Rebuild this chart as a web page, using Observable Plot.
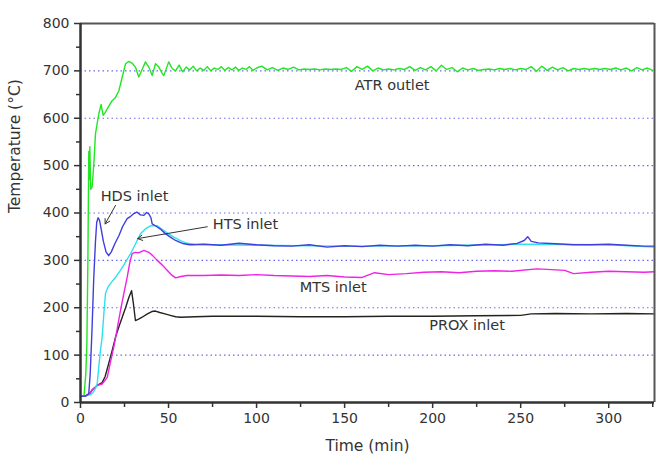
<!DOCTYPE html>
<html><head><meta charset="utf-8">
<script src="https://cdn.jsdelivr.net/npm/d3@7"></script>
<script src="https://cdn.jsdelivr.net/npm/@observablehq/plot@0.6"></script>
<style>body{margin:0;background:#fff} svg{display:block}</style>
</head><body><div id="chart"></div>
<script>
// [time (min), temperature (°C)]
const atrOutlet = [[0,13],[2,14],[3,60],[3.6,120],[4.2,300],[4.7,530],[5.0,470],[5.3,540],[5.8,450],[6.6,455],[7.6,505],[8.5,567],[9.5,590],[10.4,609],[11.7,629],[12.9,606],[14,612],[15.2,620],[16.5,628],[18,637],[19.9,644],[21.8,658],[23.7,687],[25.6,715],[27.5,720],[29.4,716],[31.2,708],[33.1,687],[35,703],[36.9,719],[38.8,708],[40.7,690],[42.6,715],[44.5,708],[46,697],[47.3,690],[50.1,719],[52,705],[54,700],[56,712],[58,698],[60,708],[62,702],[64,710],[66,700],[68,706],[70,701],[72,709],[74,700],[76,706],[78,703],[80,709],[82,701],[84,707],[86,702],[88,708],[90,701],[92,706],[94,703],[96,709],[98,701],[100,706],[103,710],[106,702],[109,707],[112,701],[115,706],[118,703],[121,708],[124,702],[127,704],[130,703],[133,704],[136,702],[139,704],[142,703],[145,704],[148,703],[151,707],[154,699],[157,709],[160,703],[163,710],[166,700],[169,706],[172,702],[175,704],[178,702],[181,705],[184,703],[187,709],[190,701],[193,707],[196,702],[199,709],[202,700],[205,712],[208,703],[211,707],[214,698],[217,706],[220,702],[223,705],[226,701],[229,703],[232,704],[235,702],[238,705],[241,703],[244,705],[247,702],[250,705],[253,703],[256,709],[259,699],[262,710],[265,701],[268,708],[271,702],[274,707],[277,700],[280,705],[283,703],[286,705],[289,703],[292,705],[295,703],[298,705],[301,703],[304,706],[307,702],[310,706],[313,700],[316,707],[319,702],[322,706],[325,701]];
const prox = [[0,13],[3,14],[5,18],[7,28],[9.5,36],[12.3,42],[14,55],[16,82],[18,110],[19.9,138],[21.8,160],[23.7,180],[25.6,200],[27.5,222],[29,236],[30,210],[31.2,173],[33,176],[35,180],[38,187],[40.5,192],[42.6,193],[45,190],[48,187],[51,184],[54,181],[57,180],[65,181],[75,182],[100,182],[125,181],[150,181],[175,182],[200,182],[225,183],[250,184],[256,187],[270,188],[290,187],[310,188],[326,187]];
const mts = [[0,13],[3,14],[5,18],[7,28],[9.5,36],[12.3,39],[15.2,53],[17,85],[18.9,117],[20.8,155],[22.7,194],[24.6,230],[26.5,264],[28,295],[29.3,314],[31,317],[33,316],[36,321],[38.8,317],[41,310],[43.6,300],[46.5,290],[49.2,279],[51.5,270],[54,263],[57,266],[60.5,268],[70,268],[80,269],[90,268],[100,270],[110,268],[120,267],[130,266],[140,268],[150,265],[160,264],[167,274],[175,270],[185,272],[195,275],[205,276],[215,274],[225,277],[235,278],[245,277],[259,282],[265,281],[275,279],[280,272],[290,275],[300,277],[310,276],[320,275],[326,276]];
const hts = [[0,13],[3,14],[5.5,16],[7,20],[8.5,30],[9.5,40],[10.5,80],[11.5,115],[12.3,138],[13.2,185],[14.2,230],[15.5,243],[17,251],[20,265],[22.7,279],[25.5,296],[28.4,314],[31,333],[34,356],[37,367],[39.8,373],[43.6,373],[47.3,363],[50,356],[53,349],[57,341],[60.5,336],[65,334],[75,333],[100,332],[150,330],[200,331],[250,334],[300,333],[326,328]];
const hds = [[0,13],[2,13],[3.5,15],[4.7,19],[5.5,60],[6.5,150],[7.5,260],[8.5,340],[9.2,380],[10,390],[10.8,385],[11.8,365],[13,340],[14.5,318],[16,310],[17.5,318],[19.5,335],[21.8,352],[24,372],[26.5,388],[28.5,393],[30,398],[32,402],[34,396],[36,395],[37.5,401],[38.8,398],[40,390],[40.7,377],[43,372],[45.4,366],[48,357],[51,349],[54,342],[56.5,338],[58.7,335],[62,333],[64,333],[70,334],[80,332],[90,336],[100,333],[110,331],[120,330],[130,333],[140,328],[150,331],[160,329],[170,332],[180,330],[190,332],[200,330],[210,333],[220,331],[230,334],[240,332],[248,336],[252,342],[254,350],[256,340],[260,337],[270,335],[280,333],[290,333],[300,334],[310,332],[320,330],[326,330]];

const gridValues = [100,200,300,400,500,600,700];
const yTicks = [0,100,200,300,400,500,600,700,800];
const yMinor = [50,150,250,350,450,550,650,750];
const xTicks = [0,50,100,150,200,250,300];
const xMinor = [25,75,125,175,225,275,325];

const labels = [
  {text:"ATR outlet", t:177, v:670},
  {text:"HDS inlet", t:30.7, v:435},
  {text:"HTS inlet", t:93.7, v:376},
  {text:"MTS inlet", t:143.5, v:242},
  {text:"PROX inlet", t:219.5, v:163}
];
const arrows = [
  {t1:19.9, v1:416, t2:14.0, v2:377},
  {t1:72, v1:371, t2:32.5, v2:346}
];

const toRows = pts => pts.map(([t,v]) => ({t, v}));
const font = "'DejaVu Sans', sans-serif";

const chart = Plot.plot({
  width: 659, height: 466,
  marginLeft: 80, marginRight: 5, marginTop: 23, marginBottom: 64,
  style: {fontFamily: font, fontSize: "14px", color: "#333", background: "#fff"},
  x: {domain: [0, 326]},
  y: {domain: [0, 800]},
  marks: [
    Plot.ruleY(gridValues, {stroke: "#6a6af0", strokeDasharray: "1.5,3", strokeWidth: 1.2}),
    Plot.line(toRows(atrOutlet), {x:"t", y:"v", stroke:"#22e622", strokeWidth:1.4}),
    Plot.line(toRows(prox), {x:"t", y:"v", stroke:"#222", strokeWidth:1.4}),
    Plot.line(toRows(mts), {x:"t", y:"v", stroke:"#f022e6", strokeWidth:1.4}),
    Plot.line(toRows(hts), {x:"t", y:"v", stroke:"#2ee0f0", strokeWidth:1.4}),
    Plot.line(toRows(hds), {x:"t", y:"v", stroke:"#3f3fdc", strokeWidth:1.4}),
    Plot.axisY({ticks: yTicks, tickSize: 6, tickPadding: 5, label: null, fontSize: 14, stroke: "#333", strokeWidth: 1.5}),
    Plot.axisY({ticks: yMinor, tickSize: 4, tickFormat: () => "", label: null, strokeWidth: 1.5}),
    Plot.axisX({ticks: xTicks, tickSize: 6, tickPadding: 5, label: null, fontSize: 14, strokeWidth: 1.5}),
    Plot.axisX({ticks: xMinor, tickSize: 5, tickFormat: () => "", label: null, strokeWidth: 1.5}),
    Plot.ruleY([800], {stroke: "#555", strokeWidth: 2}),
    Plot.ruleX([326], {stroke: "#555", strokeWidth: 2}),
    Plot.ruleX([0], {stroke: "#333", strokeWidth: 2.5}),
    Plot.ruleY([0], {stroke: "#333", strokeWidth: 2.5}),
    Plot.text(labels, {x:"t", y:"v", text:"text", fill:"#333", fontSize: 14.5}),
    Plot.arrow(arrows, {x1:"t1", y1:"v1", x2:"t2", y2:"v2", stroke:"#333", strokeWidth:1, headLength:8}),
    Plot.text(["Time (min)"], {frameAnchor:"bottom", dy: 48, fill:"#333", fontSize: 15.5}),
    Plot.text(["Temperature (°C)"], {frameAnchor:"left", dx: -65, rotate: -90, fill:"#333", fontSize: 15.5})
  ]
});
document.getElementById("chart").appendChild(chart);
</script>
</body></html>
